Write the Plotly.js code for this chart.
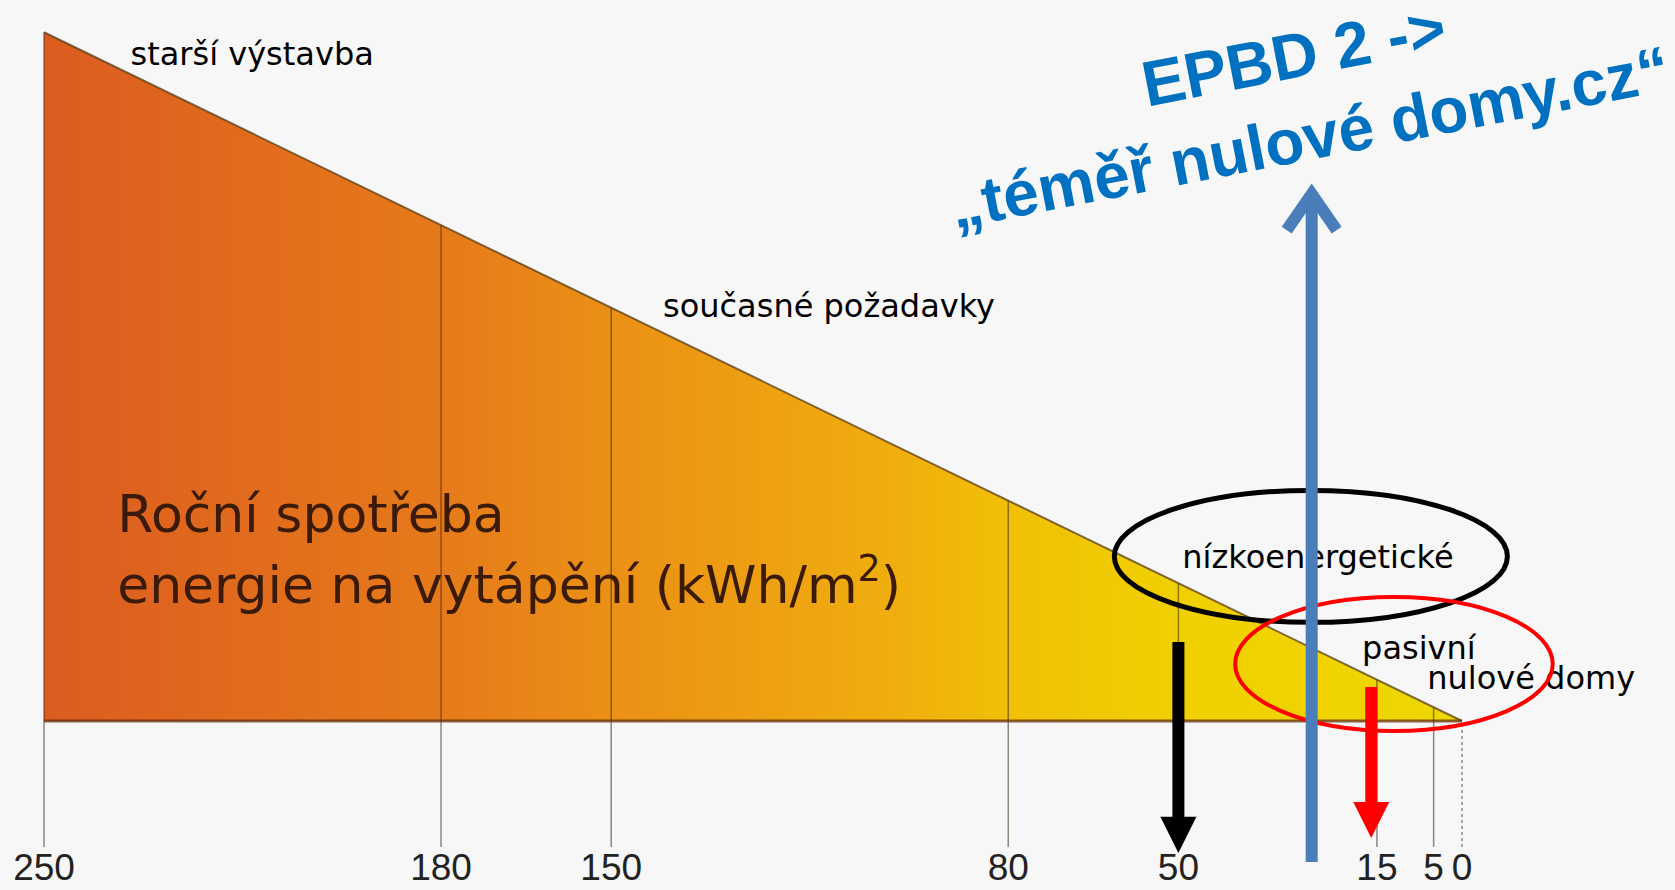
<!DOCTYPE html>
<html>
<head>
<meta charset="utf-8">
<script src="https://cdn.plot.ly/plotly-3.0.1.min.js"></script>
<style>html,body{margin:0;padding:0;background:#f7f7f7;}#chart{width:1675px;height:890px;}</style>
</head>
<body>
<div id="chart"></div>
<script>
// ---- data ----
const tickValues = [250, 180, 150, 80, 50, 15, 5, 0];
const tickLabels = ['250', '180', '150', '80', '50', '15', '5', '0'];
const categoryLabels = ['starší výstavba', 'současné požadavky', 'nízkoenergetické', 'pasivní', 'nulové domy'];
const categoryX = [213.3, 111.6, 25.4, 7.6, -12.2];
const categoryY = [241.1, 149.4, 58.3, 25.5, 14.7];
const titleLines = ['Roční spotřeba', 'energie na vytápění (kWh/m<sup>2</sup>)'];
const titleX = [237.1, 237.1];
const titleY = [73.2, 47.5];
const epbdText = 'EPBD 2 -><br>„téměř nulové domy.cz“';
const arrowX = [50, 16, 26.5];        // black (nízkoenergetické), red (pasivní), blue (EPBD 2)

// ---- derived geometry ----
const maxV = Math.max(...tickValues), minV = Math.min(...tickValues);
const lineBottom = -45.7;
const PXX = 5.672, PXY = 2.755; // pixels per unit (from layout size / ranges)

const triangle = {
  x: [maxV, minV, maxV, maxV], y: [maxV, minV, minV, maxV],
  type: 'scatter', mode: 'lines', fill: 'toself', line: {width: 0},
  fillgradient: {type: 'horizontal', start: maxV, stop: minV,
    colorscale: [[0, '#dc5c20'], [0.28, '#e67a1a'], [0.4, '#eb9016'], [0.6, '#f0ae0e'],
                 [0.68, '#f1c006'], [0.8, '#f0d000'], [1, '#eed800']]},
  hoverinfo: 'skip', showlegend: false
};

const vx = [], vy = [];
tickValues.filter(v => v !== minV).forEach(v => { vx.push(v, v, null); vy.push(lineBottom, v, null); });
const vlines = {x: vx, y: vy, type: 'scatter', mode: 'lines',
  line: {color: 'rgba(60,40,20,0.55)', width: 1.5}, hoverinfo: 'skip', showlegend: false};
const zeroLine = {x: [minV, minV], y: [lineBottom, minV], type: 'scatter', mode: 'lines',
  line: {color: 'rgba(60,60,60,0.6)', width: 1.5, dash: 'dot'}, hoverinfo: 'skip', showlegend: false};
const hyp = {x: [maxV, minV], y: [maxV, minV], type: 'scatter', mode: 'lines',
  line: {color: 'rgba(90,60,20,0.75)', width: 2}, hoverinfo: 'skip', showlegend: false};
const base = {x: [maxV, minV], y: [minV, minV], type: 'scatter', mode: 'lines',
  line: {color: 'rgba(100,45,10,0.75)', width: 3}, hoverinfo: 'skip', showlegend: false};

const labels = {x: categoryX, y: categoryY, text: categoryLabels, type: 'scatter', mode: 'text',
  textposition: 'middle center', cliponaxis: false,
  textfont: {family: 'DejaVu Sans', size: 32, color: '#000'}, hoverinfo: 'skip', showlegend: false};
const title = {x: titleX, y: titleY, text: titleLines, type: 'scatter', mode: 'text',
  textposition: 'middle right', cliponaxis: false,
  textfont: {family: 'DejaVu Sans', size: 52, color: '#3a1a08'}, hoverinfo: 'skip', showlegend: false};

// arrows
function downArrow(x, yTop, yHead, yTip, color) {
  const hw = 18 / PXX;
  return [
    {type: 'line', xref: 'x', yref: 'y', x0: x, x1: x, y0: yTop, y1: yHead - 1, line: {color: color, width: 12}},
    {type: 'path', xref: 'x', yref: 'y', path: `M${x - hw},${yHead} L${x + hw},${yHead} L${x},${yTip} Z`,
     fillcolor: color, line: {width: 0}}
  ];
}
const blueX = arrowX[2];
const wing = 25 / PXX;
const shapes = [
  {type: 'circle', xref: 'x', yref: 'y', x0: 61.3, x1: -8.0, y0: 35.8, y1: 83.7, line: {color: '#000', width: 5}},
  {type: 'circle', xref: 'x', yref: 'y', x0: 40.0, x1: -16.0, y0: -3.6, y1: 45.0, line: {color: '#ff0000', width: 4}},
  ...downArrow(arrowX[0], 28.7, -34.8, -47.9, '#000000'),
  ...downArrow(arrowX[1], 12.3, -29.4, -42.5, '#ff0000'),
  {type: 'line', xref: 'x', yref: 'y', x0: blueX, x1: blueX, y0: -51.2, y1: 190, line: {color: '#4a7ebb', width: 12}},
  {type: 'path', xref: 'x', yref: 'y', path: `M${blueX - wing},178.2 L${blueX},191.3 L${blueX + wing},178.2`,
   line: {color: '#4a7ebb', width: 12}}
];

const layout = {
  width: 1675, height: 890,
  margin: {l: 0, r: 0, t: 0, b: 0},
  paper_bgcolor: '#f7f7f7', plot_bgcolor: '#f7f7f7',
  showlegend: false,
  xaxis: {range: [maxV + 44 / PXX, minV - 213 / PXX], showgrid: false, zeroline: false, showline: false,
    tickvals: tickValues, ticktext: tickLabels, ticks: '', ticklabelposition: 'inside',
    tickfont: {family: 'Liberation Sans', size: 37, color: '#222'}, fixedrange: true},
  yaxis: {range: [-169 / PXY, 721 / PXY], visible: false, fixedrange: true},
  shapes: shapes,
  annotations: [
    {x: 28.3, y: 226.5, xref: 'x', yref: 'y', text: epbdText, showarrow: false, textangle: -11,
     xanchor: 'center', yanchor: 'middle',
     font: {family: 'Liberation Sans', size: 64, color: '#0070c0', weight: 'bold'}}
  ]
};

Plotly.newPlot('chart', [triangle, vlines, zeroLine, hyp, base, title, labels], layout, {displayModeBar: false, staticPlot: true});
</script>
</body>
</html>
